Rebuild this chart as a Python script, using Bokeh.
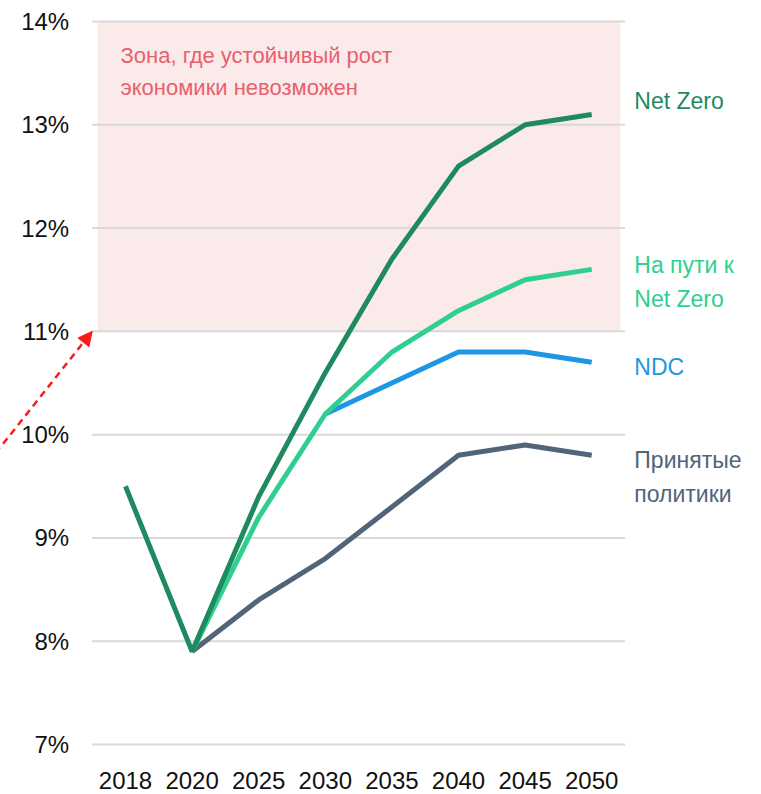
from bokeh.plotting import figure
from bokeh.models import Range1d, FixedTicker, Label, Arrow, NormalHead
from bokeh.embed import file_html
from bokeh.resources import INLINE

years = ["2018", "2020", "2025", "2030", "2035", "2040", "2045", "2050"]
idx = list(range(len(years)))

net_zero = [9.5, 7.9, 9.4, 10.6, 11.7, 12.6, 13.0, 13.1]
path_nz_x = idx[1:]
path_nz = [7.9, 9.2, 10.2, 10.8, 11.2, 11.5, 11.6]
ndc_x = idx[3:]
ndc = [10.2, 10.5, 10.8, 10.8, 10.7]
policies_x = idx[1:]
policies = [7.9, 8.4, 8.8, 9.3, 9.8, 9.9, 9.8]

zone_bottom = 11
zone_top = 14
y_ticks = [7, 8, 9, 10, 11, 12, 13, 14]

FONT = "Liberation Sans"
PX = 66.6   # pixels per category step
PY = 103.3  # pixels per percent

p = figure(frame_width=761, frame_height=760, min_border_left=0, min_border_top=0,
           min_border_right=0, min_border_bottom=34,
           x_range=Range1d(-125 / PX, (761 - 125) / PX),
           y_range=Range1d(7 - 16 / PY, 14 + 21 / PY),
           output_backend="svg", toolbar_location=None, background_fill_color="white",
           border_fill_color="white")
p.outline_line_color = None
p.xgrid.visible = False
p.ygrid.visible = False

# unsustainable zone
p.quad(left=[-0.42], right=[7.43], bottom=[zone_bottom], top=[zone_top],
       fill_color="#fbeaea", line_color=None, level="image")

# horizontal gridlines limited to the category span
p.segment(x0=[-0.5] * len(y_ticks), x1=[7.5] * len(y_ticks), y0=y_ticks, y1=y_ticks,
          line_color="#d9d9d9", line_width=2, level="underlay")

for ax in (p.xaxis, p.yaxis):
    ax.axis_line_color = None
    ax.major_tick_line_color = None
    ax.minor_tick_line_color = None
    ax.major_label_text_font = FONT
    ax.major_label_text_font_size = "24px"
    ax.major_label_text_color = "#111111"

p.yaxis.ticker = FixedTicker(ticks=y_ticks)
p.yaxis.major_label_overrides = {t: f"{t}%" for t in y_ticks}
p.yaxis.major_label_standoff = 17
p.yaxis.fixed_location = -0.5
p.xaxis.ticker = FixedTicker(ticks=idx)
p.xaxis.major_label_overrides = {i: y for i, y in enumerate(years)}
p.xaxis.major_label_standoff = 5

p.line(policies_x, policies, line_color="#526479", line_width=5)
p.line(ndc_x, ndc, line_color="#1e96e3", line_width=5)
p.line(path_nz_x, path_nz, line_color="#2fcf8f", line_width=5)
p.line(idx, net_zero, line_color="#1f8a5f", line_width=5)

zone_lines = ["Зона, где устойчивый рост", "экономики невозможен"]
for t, yy in zip(zone_lines, [13.67, 13.36]):
    p.add_layout(Label(x=-0.075, y=yy, text=t, text_font=FONT, text_font_size="22px",
                       text_color="#e8606e", text_baseline="middle", text_align="left"))

labels = [("Net Zero", 13.226, "#1f8a5f"),
          ("На пути к", 11.638, "#2fcf8f"),
          ("Net Zero", 11.309, "#2fcf8f"),
          ("NDC", 10.651, "#1e96e3"),
          ("Принятые", 9.75, "#526479"),
          ("политики", 9.43, "#526479")]
for t, yy, c in labels:
    p.add_layout(Label(x=7.64, y=yy, text=t, text_font=FONT, text_font_size="23px",
                       text_color=c, text_baseline="middle", text_align="left"))

p.add_layout(Arrow(x_start=-1.95, y_start=9.82, x_end=-0.5, y_end=11.0,
                   line_color="#ff1a1a", line_width=2.5, line_dash="7 5",
                   end=NormalHead(size=14, fill_color="#ff1a1a", line_color="#ff1a1a")))

open("out.html", "w").write(file_html(p, INLINE))
